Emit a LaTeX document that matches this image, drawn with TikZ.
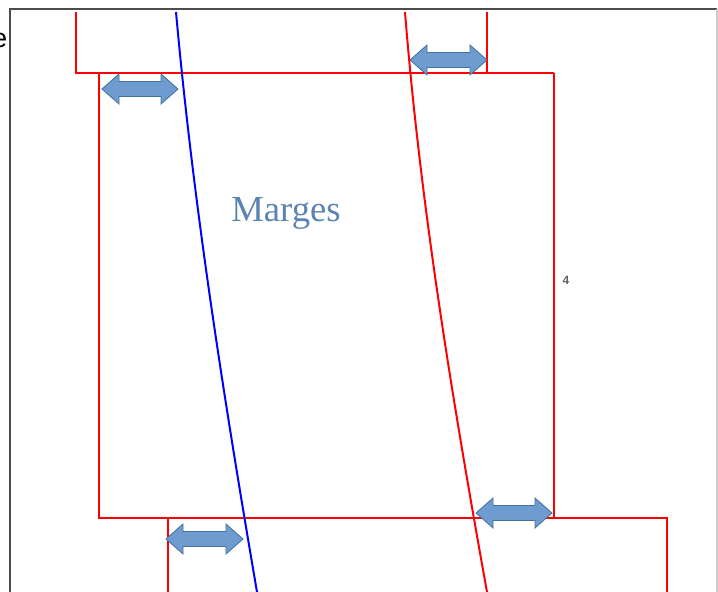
\documentclass[tikz,border=0pt]{standalone}
\usepackage{fontspec}
\setmainfont{Liberation Serif}
\setsansfont{Liberation Sans}
\usetikzlibrary{calc}
\definecolor{arrowfill}{RGB}{110,155,208}
\definecolor{arrowedge}{RGB}{65,113,156}
\definecolor{margetext}{RGB}{91,131,180}

\begin{document}
\begin{tikzpicture} [x = 0.75pt, y=-0.75pt]
\useasboundingbox (0,0) rectangle (718,592);
% cadre
\draw[gray!60!black, line width=1.5pt] (9.5,600)--(9.5,9.5)--(717,9.5);
\draw[gray!40, line width=1pt] (717,9.5)--(717,600);
\node[font=\sffamily\fontsize{20}{20}\selectfont, anchor=east, inner sep=0pt] (e) at (7.5,40) {e};
% pages
\draw[red, line width=1.5pt] (76,12)--(76,73)--(554,73);
\draw[red, line width=1.5pt] (487,12)--(487,73);
\draw[red, line width=1.5pt] (99,73)--(99,518)--(667,518)--(667,600);
\draw[red, line width=1.5pt] (554,73)--(554,518);
\draw[red, line width=1.5pt] (168,518)--(168,600);
% courbes
\draw[blue, line width=1.5pt] (176,12) .. controls (193.4,205) and (224,399) .. (257,592);
\draw[red, line width=1.5pt] (405,12) .. controls (420.4,205) and (452.3,399) .. (487,592);
% fleches
\foreach \xa/\xb/\y in {102/178/89, 410/487/60, 166/243/539, 476/552/513} {
 \filldraw[fill=arrowfill, draw=arrowedge, line width=0.6pt, line join=miter]
  (\xa,\y) --++(17,-15) --++(0,7.5) -- ({\xb-17},{\y-7.5}) --++(0,-7.5) -- (\xb,\y)
  --++(-17,15) --++(0,-7.5) -- ({\xa+17},{\y+7.5}) --++(0,7.5) -- cycle;
}
\node[text=margetext, font=\fontsize{27.5}{30}\selectfont] (marges) at (286,213) {Marges};
\node[text=gray!75!black, font=\sffamily\bfseries\fontsize{9}{9}\selectfont] (four) at (566,280) {4};
\end{tikzpicture}
\end{document}
